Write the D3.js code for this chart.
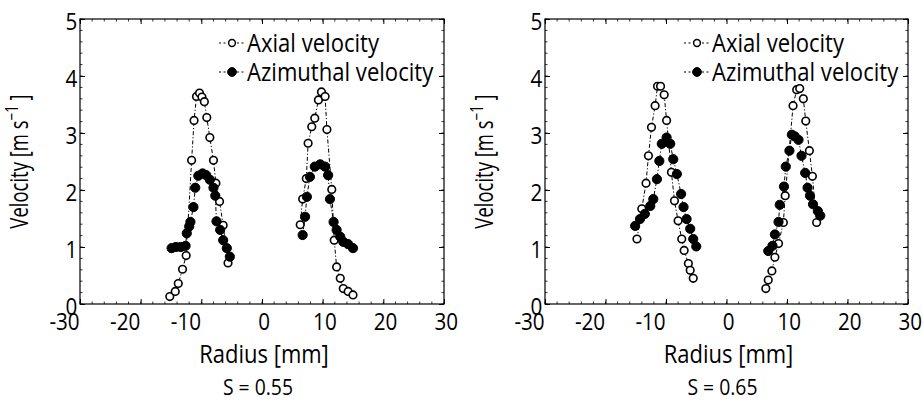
<!DOCTYPE html>
<html>
<head>
<meta charset="utf-8">
<script src="https://cdn.jsdelivr.net/npm/d3@7"></script>
<style>
  html, body { margin: 0; padding: 0; background: #fff; }
  svg { display: block; }
  text { font-family: "Open Sans", "Noto Sans", sans-serif; fill: #000; }
</style>
</head>
<body>
<svg id="fig" width="923" height="412"></svg>
<script>
// Axis settings
const radiusDomain = [-30, 30];
const velocityDomain = [0, 5];
const xTicks = [-30, -20, -10, 0, 10, 20, 30];
const yTicks = [0, 1, 2, 3, 4, 5];
const seriesNames = ["Axial velocity", "Azimuthal velocity"];
const panelTitles = ["S = 0.55", "S = 0.65"];

// S = 0.55 : [radius (mm), velocity (m/s)], one array per jet side
const axial055Neg = [[-15.2,0.13],[-14.3,0.22],[-13.8,0.36],[-13.1,0.61],[-12.5,0.85],[-11.6,2.52],[-11.2,3.22],[-10.8,3.64],[-10.3,3.70],[-9.9,3.63],[-9.5,3.55],[-9.1,3.27],[-8.6,2.92],[-8.0,2.52],[-7.6,2.12],[-7.0,1.80],[-6.4,1.38],[-5.6,0.72]];
const azim055Neg  = [[-14.9,0.98],[-14.2,1.00],[-13.4,1.00],[-12.6,1.02],[-12.4,1.24],[-12.0,1.36],[-11.8,1.44],[-11.3,1.70],[-11.0,2.04],[-10.5,2.25],[-9.8,2.29],[-9.2,2.26],[-8.6,2.18],[-8.0,2.04],[-7.7,1.90],[-7.5,1.45],[-6.9,1.30],[-6.4,1.12],[-5.8,0.98],[-5.3,0.83]];
const axial055Pos = [[6.3,1.39],[6.7,1.84],[7.3,2.20],[7.6,2.82],[8.2,3.11],[8.7,3.26],[9.3,3.58],[9.8,3.72],[10.4,3.64],[10.7,3.06],[11.5,2.01],[11.9,1.12],[12.3,0.65],[12.9,0.45],[13.4,0.27],[14.2,0.22],[15.0,0.16]];
const azim055Pos  = [[6.7,1.21],[7.1,1.53],[7.4,1.88],[7.9,2.23],[8.7,2.41],[9.6,2.45],[10.4,2.41],[10.9,2.26],[11.2,1.84],[11.8,1.44],[12.3,1.30],[12.9,1.18],[13.4,1.09],[14.2,1.05],[15.0,0.98]];

// S = 0.65
const axial065Neg = [[-14.8,1.14],[-14.0,1.67],[-13.3,2.12],[-12.9,2.60],[-12.4,3.10],[-11.8,3.48],[-11.4,3.82],[-10.9,3.82],[-10.3,3.67],[-9.9,3.22],[-9.1,2.31],[-8.6,1.81],[-8.0,1.46],[-7.4,1.14],[-7.0,0.94],[-6.3,0.71],[-6.0,0.59],[-5.5,0.45]];
const azim065Neg  = [[-15.1,1.37],[-14.3,1.49],[-13.5,1.58],[-12.6,1.72],[-12.1,1.84],[-11.5,2.19],[-11.1,2.51],[-10.7,2.81],[-9.9,2.92],[-9.3,2.81],[-8.8,2.54],[-8.2,2.28],[-7.5,1.93],[-7.1,1.70],[-6.6,1.49],[-6.0,1.32],[-5.5,1.14],[-5.0,1.01]];
const axial065Pos = [[6.5,0.27],[6.9,0.42],[7.5,0.58],[8.0,0.82],[8.6,1.06],[9.4,1.43],[9.7,1.90],[11.0,3.48],[11.6,3.76],[12.1,3.78],[12.7,3.60],[13.1,3.21],[13.7,2.69],[14.2,2.24],[14.9,1.43]];
const azim065Pos  = [[6.9,0.93],[7.6,1.02],[8.0,1.22],[8.6,1.44],[8.8,1.74],[9.5,2.06],[9.8,2.41],[10.4,2.69],[10.8,2.97],[11.3,2.94],[11.9,2.88],[12.4,2.60],[13.0,2.30],[13.4,2.04],[13.8,1.90],[14.3,1.75],[15.1,1.63],[15.5,1.55]];

const panels = [
  { title: panelTitles[0], left: 80,  right: 444, axial: [axial055Neg, axial055Pos], azim: [azim055Neg, azim055Pos] },
  { title: panelTitles[1], left: 545, right: 908, axial: [axial065Neg, axial065Pos], azim: [azim065Neg, azim065Pos] }
];
const plotTop = 19, plotBottom = 304;

const svg = d3.select("#fig");
const dashDot = "4,2,1.2,2";

// text placed at (x, y), narrowed horizontally by sx to get a condensed face
function narrowText(parent, x, y, sx, rotate) {
  return parent.append("g")
    .attr("transform", `translate(${x},${y})${rotate ? ` rotate(${rotate})` : ""} scale(${sx},1)`)
    .append("text");
}

panels.forEach(p => {
  const x = d3.scaleLinear().domain(radiusDomain).range([p.left, p.right]);
  const y = d3.scaleLinear().domain(velocityDomain).range([plotBottom, plotTop]);
  const g = svg.append("g");

  // minor ticks (inward) on all four sides
  const minorX = d3.range(-30, 30.01, 2);
  const minorY = d3.range(0, 5.01, 0.2);
  const minor = g.append("g").attr("stroke", "#000").attr("stroke-width", 0.8);
  minorX.forEach(v => {
    minor.append("line").attr("x1", x(v)).attr("x2", x(v)).attr("y1", plotBottom).attr("y2", plotBottom - 2.5);
    minor.append("line").attr("x1", x(v)).attr("x2", x(v)).attr("y1", plotTop).attr("y2", plotTop + 2.5);
  });
  minorY.forEach(v => {
    minor.append("line").attr("x1", p.left).attr("x2", p.left + 2.5).attr("y1", y(v)).attr("y2", y(v));
    minor.append("line").attr("x1", p.right).attr("x2", p.right - 2.5).attr("y1", y(v)).attr("y2", y(v));
  });

  // bottom axis
  const xAxis = g.append("g").attr("transform", `translate(0,${plotBottom})`)
    .call(d3.axisBottom(x).tickValues(xTicks).tickSizeInner(-5).tickSizeOuter(0).tickPadding(9).tickFormat(d3.format("d")));
  xAxis.select(".domain").remove();
  xAxis.selectAll("text")
    .attr("font-size", 24)
    .attr("font-family", null)
    .attr("transform", "scale(0.86,1)")
    .attr("text-anchor", d => d < 0 ? "end" : "middle")
    .attr("dx", d => d < 0 ? -1 : 2)
    .text(d => d < 0 ? "-" + Math.abs(d) : d);

  // top axis (ticks only)
  const xTop = g.append("g").attr("transform", `translate(0,${plotTop})`)
    .call(d3.axisTop(x).tickValues(xTicks).tickSizeInner(-5).tickSizeOuter(0).tickFormat(""));
  xTop.select(".domain").remove();

  // left axis
  const yAxis = g.append("g").attr("transform", `translate(${p.left},0)`)
    .call(d3.axisLeft(y).tickValues(yTicks).tickSizeInner(-5).tickSizeOuter(0).tickPadding(3).tickFormat(d3.format("d")));
  yAxis.select(".domain").remove();
  yAxis.selectAll("text").attr("font-size", 24).attr("font-family", null)
    .attr("transform", "scale(0.86,1)").attr("dy", "0.42em");

  // right axis (ticks only)
  const yRight = g.append("g").attr("transform", `translate(${p.right},0)`)
    .call(d3.axisRight(y).tickValues(yTicks).tickSizeInner(-5).tickSizeOuter(0).tickFormat(""));
  yRight.select(".domain").remove();

  // frame
  g.append("rect").attr("x", p.left).attr("y", plotTop)
    .attr("width", p.right - p.left).attr("height", plotBottom - plotTop)
    .attr("fill", "none").attr("stroke", "#000").attr("stroke-width", 1.2);

  // series lines
  const line = d3.line().x(d => x(d[0])).y(d => y(d[1]));
  [...p.axial, ...p.azim].forEach(seg => {
    g.append("path").attr("d", line(seg)).attr("fill", "none")
      .attr("stroke", "#000").attr("stroke-width", 1).attr("stroke-dasharray", dashDot);
  });

  // axial: open circles
  p.axial.forEach(seg => {
    g.append("g").selectAll("circle").data(seg).join("circle")
      .attr("cx", d => x(d[0])).attr("cy", d => y(d[1])).attr("r", 3.8)
      .attr("fill", "#fff").attr("stroke", "#000").attr("stroke-width", 1.6);
  });
  // azimuthal: filled circles
  p.azim.forEach(seg => {
    g.append("g").selectAll("circle").data(seg).join("circle")
      .attr("cx", d => x(d[0])).attr("cy", d => y(d[1])).attr("r", 4.6)
      .attr("fill", "#000").attr("stroke", "#000").attr("stroke-width", 1);
  });

  // legend
  const lg = g.append("g").attr("transform", `translate(${p.left + 152},0)`);
  const rows = [{ name: seriesNames[0], y: 43, filled: false }, { name: seriesNames[1], y: 72, filled: true }];
  rows.forEach(r => {
    lg.append("line").attr("x1", -13).attr("x2", 13).attr("y1", r.y).attr("y2", r.y)
      .attr("stroke", "#000").attr("stroke-width", 1).attr("stroke-dasharray", "2,2.5");
    lg.append("circle").attr("cx", 0).attr("cy", r.y).attr("r", r.filled ? 4.4 : 3.4)
      .attr("fill", r.filled ? "#000" : "#fff").attr("stroke", "#000").attr("stroke-width", r.filled ? 1 : 1.5);
    narrowText(lg, 15, r.y, 0.85).attr("dy", "0.36em").attr("font-size", 26).text(r.name);
  });

  // axis titles
  const cx = (p.left + p.right) / 2;
  narrowText(g, cx + 2, 363, 0.88).attr("text-anchor", "middle")
    .attr("font-size", 25).text("Radius [mm]");
  const yt = narrowText(g, p.left - 52, (plotTop + plotBottom) / 2, 0.74, -90)
    .attr("text-anchor", "middle").attr("font-size", 25);
  yt.append("tspan").text("Velocity [m s");
  yt.append("tspan").attr("font-size", 18).attr("dy", -10).text("\u22121");
  yt.append("tspan").attr("dy", 10).text(" ]");

  // panel caption
  narrowText(g, cx - 4, 395, 0.88).attr("text-anchor", "middle")
    .attr("font-size", 22).text(p.title);
});
</script>
</body>
</html>
